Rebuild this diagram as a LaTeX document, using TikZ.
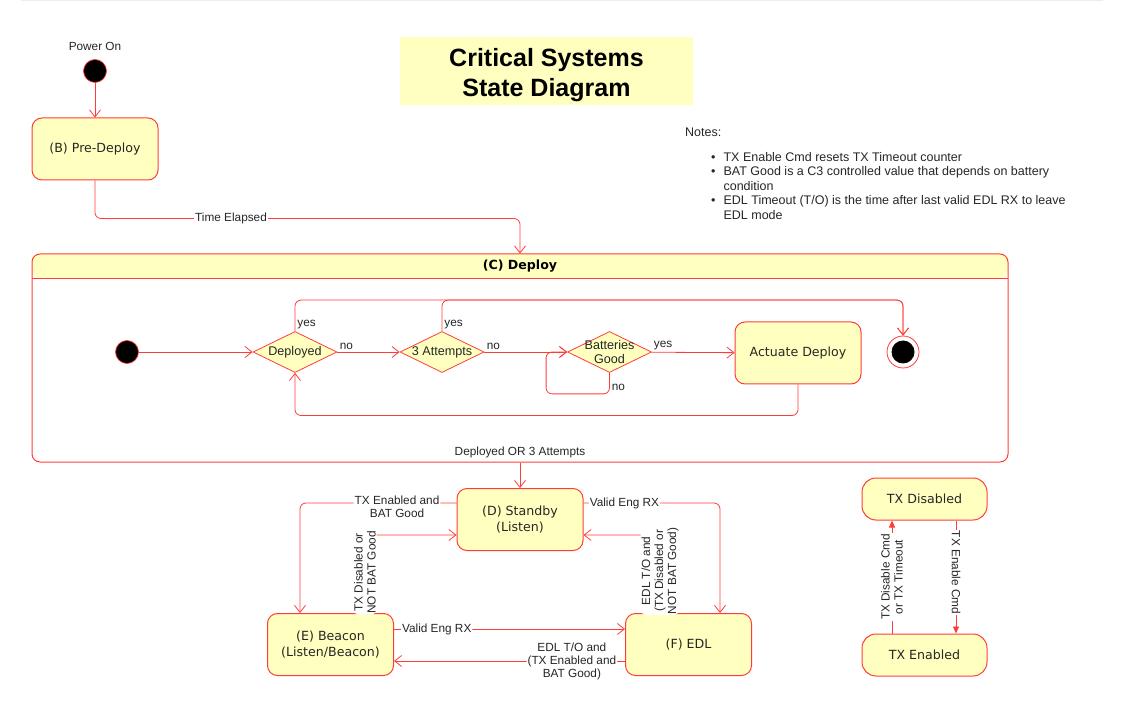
\documentclass[tikz,border=0pt]{standalone}
\usepackage{fontspec}
\setmainfont{Liberation Sans}
\newfontfamily\statefont{DejaVu Sans}
\usetikzlibrary{arrows.meta, positioning, shapes.geometric}

\definecolor{linered}{RGB}{255,60,60}
\definecolor{statefill}{RGB}{255,255,192}

\begin{document}
\begin{tikzpicture}[
    x=1pt,
    y=-1pt,
    >={Straight Barb[length=7pt,width=11pt]},
    state/.style={rectangle, rounded corners=10pt, draw=linered, fill=statefill,
        line width=1pt, minimum width=126pt, minimum height=62pt, align=center,
        text=black!85, font=\statefont\fontsize{12.6}{16}\selectfont},
    txstate/.style={state, minimum width=125pt, minimum height=42pt, rounded corners=14pt},
    choice/.style={diamond, aspect=2.05, draw=linered, fill=statefill, line width=0.8pt,
        minimum width=84pt, minimum height=41pt, inner sep=0pt, text=black!85,
        font=\fontsize{12.6}{13}\selectfont},
    start/.style={circle, fill=black, draw=linered, line width=0.7pt,
        minimum size=23pt, inner sep=0pt},
    stop/.style={circle, draw=linered, fill=white, line width=0.8pt,
        minimum size=32pt, inner sep=0pt,
        path picture={\fill[black] (path picture bounding box.center) circle (11.5pt);}},
    container/.style={rectangle, draw=linered, line width=1pt, rounded corners=8pt,
        minimum width=976pt, minimum height=208pt,
        path picture={
            \fill[statefill] (path picture bounding box.north west)
                rectangle ([yshift=-24pt]path picture bounding box.north east);
            \draw[linered, line width=0.8pt] ([yshift=-24pt]path picture bounding box.north west)
                -- ([yshift=-24pt]path picture bounding box.north east);}},
    wire/.style={->, draw=linered, line width=0.8pt, rounded corners=6pt},
    txwire/.style={-{Triangle[length=7pt,width=6pt]}, draw=linered, line width=0.8pt},
    cond/.style={fill=white, inner sep=1pt, align=center, text=black!85,
        font=\fontsize{11.8}{13}\selectfont},
    tag/.style={inner sep=2pt, text=black!85, font=\fontsize{11.8}{13}\selectfont},
]

    \fill[white] (0,0) rectangle (1130,708);
    \useasboundingbox (0,0) rectangle (1130,708);
    \fill[black!7] (21,0) rectangle (1103,1.5);

    % title and notes
    \node[fill=statefill, minimum width=293pt, minimum height=68pt] (titlebox) at (546.5,71) {};
    \node[align=center, font=\bfseries\fontsize{25}{30}\selectfont] (title) at (546.5,75)
          {Critical Systems\\State Diagram};
    \node[tag, anchor=west, font=\fontsize{12.5}{14.5}\selectfont] (notes) at (683,132) {Notes:};
    \node[anchor=north west, inner sep=0pt, text=black!85,
          font=\fontsize{12.5}{14.5}\selectfont] (notelist) at (711,151)
    {\begin{tabular}{@{}l@{\hspace{8pt}}l@{}}
        \textbullet & TX Enable Cmd resets TX Timeout counter\\
        \textbullet & BAT Good is a C3 controlled value that depends on battery\\
                    & condition\\
        \textbullet & EDL Timeout (T/O) is the time after last valid EDL RX to leave\\
                    & EDL mode
    \end{tabular}};

    % power on
    \node[start] (on) at (95,71) {};
    \node[tag, above=6pt of on] (ontext) {Power On};
    \node[state] (pre) at (95,149) {(B) Pre-Deploy};

    % deploy
    \node[container] (deploy) at (520,358) {};
    \node[font=\statefont\bfseries\fontsize{12.6}{14}\selectfont] (deploytitle) at (520,266.5) {(C) Deploy};

    \node[start ] (dstart)   at (127,352)   {};
    \node[choice] (deployed) at (295,352)   {Deployed};
    \node[choice] (attempts) at (442,352)   {3 Attempts};
    \node[choice, label={[align=center, text=black!85, font=\fontsize{12.6}{14.5}\selectfont]center:Batteries\\Good}]
                  (battery)  at (609.5,352) {};
    \node[state ] (actuate)  at (798,353)   {Actuate Deploy};
    \node[stop  ] (dstop)    at (903,352)   {};

    % lower states
    \node[state] (standby) at (520,519.5)   {(D) Standby\\(Listen)};
    \node[state] (beacon)  at (330.5,644.5) {(E) Beacon\\(Listen/Beacon)};
    \node[state] (edl)     at (688.5,644.5) {(F) EDL};

    \node[txstate] (txdis) at (924.5,499) {TX Disabled};
    \node[txstate] (txen)  at (924.5,655) {TX Enabled};

    \draw[wire] (on) -- (pre);
    \draw[wire] (pre.south) -- ++(0,38) -| node[cond, pos=0.16] {Time Elapsed} (deploy.north);

    \draw[wire] (dstart) -- (deployed);
    \draw[wire] (deployed) -- node[tag, at start, above right] {no} (attempts);
    \draw[wire] (attempts) -- node[tag, at start, above right] {no} (battery);
    \draw[wire] (battery) -- node[tag, at start, above right] {yes} (actuate);
    \draw[wire] (battery.south) -- node[tag, pos=0.7, right] {no} ++(0,21)
        -| ([xshift=-21pt]battery.west) -- (battery.west);
    \draw[wire] (deployed.north) -- node[tag, at start, above right] {yes} ++(0,-31) -| (dstop.north);
    \draw[wire] (attempts.north) -- node[tag, at start, above right] {yes} ++(0,-31) -| (dstop.north);
    \draw[wire] (actuate.south) -- ++(0,31) -| (deployed.south);

    \draw[wire] (deploy.south) -- node[tag, at start, above, yshift=2pt] {Deployed OR 3 Attempts} (standby);

    \draw[wire] ([yshift=16.5pt]standby.west) -| node[cond, pos=0.19, yshift=-4pt] {TX Enabled and\\BAT Good}
        ([xshift=-30.5pt]beacon.north);
    \draw[wire] ([xshift=34.5pt]beacon.north) |- node[cond, pos=0.26, rotate=90] {TX Disabled or\\NOT BAT Good}
        ([yshift=-15.5pt]standby.west);
    \draw[wire] ([yshift=16.5pt]standby.east) -| node[cond, pos=0.15] {Valid Eng RX}
        ([xshift=31.5pt]edl.north);
    \draw[wire] ([xshift=-28.5pt]edl.north) |- node[cond, pos=0.27, rotate=90] {EDL T/O and\\(TX Disabled or\\NOT BAT Good)}
        ([yshift=-15.5pt]standby.east);
    \draw[wire] ([yshift=15.5pt]beacon.east) -- node[cond, pos=0.185] {Valid Eng RX}
        ([yshift=15.5pt]edl.west);
    \draw[wire] ([yshift=-16.5pt]edl.west) -- node[cond, pos=0.23] {EDL T/O and\\(TX Enabled and\\BAT Good)}
        ([yshift=-16.5pt]beacon.east);

    \draw[txwire] ([xshift=-32.5pt]txen.north) -- node[cond, rotate=90] {TX Disable Cmd\\or TX Timeout}
        ([xshift=-32.5pt]txdis.south);
    \draw[txwire] ([xshift=31.5pt]txdis.south) -- node[cond, pos=0.46, rotate=-90] {TX Enable Cmd}
        ([xshift=31.5pt]txen.north);
\end{tikzpicture}
\end{document}
